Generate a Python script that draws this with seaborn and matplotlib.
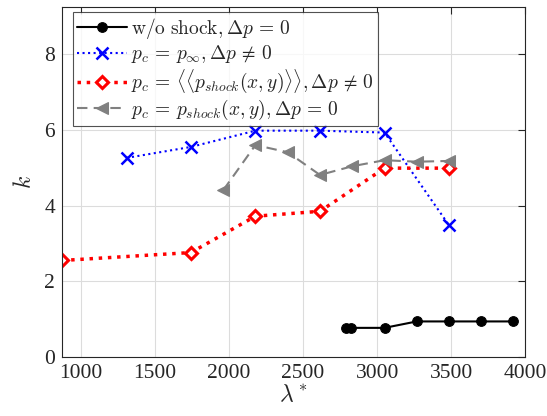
import matplotlib
matplotlib.use("Agg")
import matplotlib.pyplot as plt
import seaborn as sns
import pandas as pd

# data
lam_noshock = [2793, 2827, 3050, 3268, 3486, 3703, 3921]
k_noshock = [0.77, 0.77, 0.77, 0.94, 0.94, 0.94, 0.94]

lam_pinf = [1307, 1742, 2178, 2614, 3050, 3486]
k_pinf = [5.26, 5.55, 5.98, 5.98, 5.93, 3.48]

lam_pavg = [871, 1742, 2178, 2614, 3050, 3486]
k_pavg = [2.55, 2.76, 3.72, 3.85, 4.99, 4.99]

lam_pshock = [1961, 2178, 2396, 2614, 2832, 3050, 3268, 3486]
k_pshock = [4.41, 5.60, 5.41, 4.81, 5.04, 5.20, 5.16, 5.18]

labels = [r"$\mathrm{w/o\ shock}, \Delta p\,=\,0$",
          r"$p_c\,=\,p_\infty, \Delta p\,\neq\,0$",
          r"$p_c\,=\,\langle\langle p_{shock}(x,y)\rangle\rangle, \Delta p\,\neq\,0$",
          r"$p_c\,=\,p_{shock}(x,y), \Delta p\,=\,0$"]

sns.set_style("white")
plt.rcParams["font.family"] = ["Liberation Serif", "DejaVu Serif"]
plt.rcParams["mathtext.fontset"] = "cm"

fig = plt.figure(figsize=(5.47, 4.16), dpi=100)
ax = fig.add_axes([0.1133, 0.1418, 0.8467, 0.8407])

sns.lineplot(x=lam_noshock, y=k_noshock, ax=ax, color="black", lw=1.5,
             marker="o", markersize=7, markeredgecolor="black",
             estimator=None, sort=False, label=labels[0])
sns.lineplot(x=lam_pinf, y=k_pinf, ax=ax, color="blue", lw=1.5,
             linestyle=":", marker="x", markersize=8, markeredgewidth=1.8,
             markeredgecolor="blue",
             estimator=None, sort=False, label=labels[1])
sns.lineplot(x=lam_pavg, y=k_pavg, ax=ax, color="red", lw=2.5,
             linestyle=":", marker="D", markersize=6, markerfacecolor="white",
             markeredgecolor="red", markeredgewidth=2.2,
             estimator=None, sort=False, label=labels[2])
sns.lineplot(x=lam_pshock, y=k_pshock, ax=ax, color="gray", lw=1.5,
             linestyle=(0, (5, 3)), marker="<", markersize=9,
             markeredgecolor="gray",
             estimator=None, sort=False, label=labels[3])

ax.set_xlim(871, 4000)
ax.set_ylim(0, 9.24)
ax.set_xticks([1000, 1500, 2000, 2500, 3000, 3500, 4000])
ax.set_yticks([0, 2, 4, 6, 8])
ax.grid(True, color="#dcdcdc", lw=0.8)
ax.set_axisbelow(True)
ax.tick_params(direction="in", top=True, right=True, length=5, width=0.8,
               labelsize=15.5, colors="#262626", pad=5)
for s in ax.spines.values():
    s.set_color("#262626")
    s.set_linewidth(0.8)
ax.set_xlabel(r"$\lambda^*$", fontsize=17, labelpad=1)
ax.set_ylabel(r"$k$", fontsize=17, labelpad=6)

leg = ax.legend(loc="upper left", bbox_to_anchor=(11 / 463, 1 - 5 / 350),
                fontsize=14, frameon=True, fancybox=False,
                handlelength=2.6, handletextpad=0.2, borderpad=0.2,
                labelspacing=0.12, borderaxespad=0.0)
leg.get_frame().set_edgecolor("#262626")
leg.get_frame().set_linewidth(0.8)

fig.savefig("out.png", dpi=100)
